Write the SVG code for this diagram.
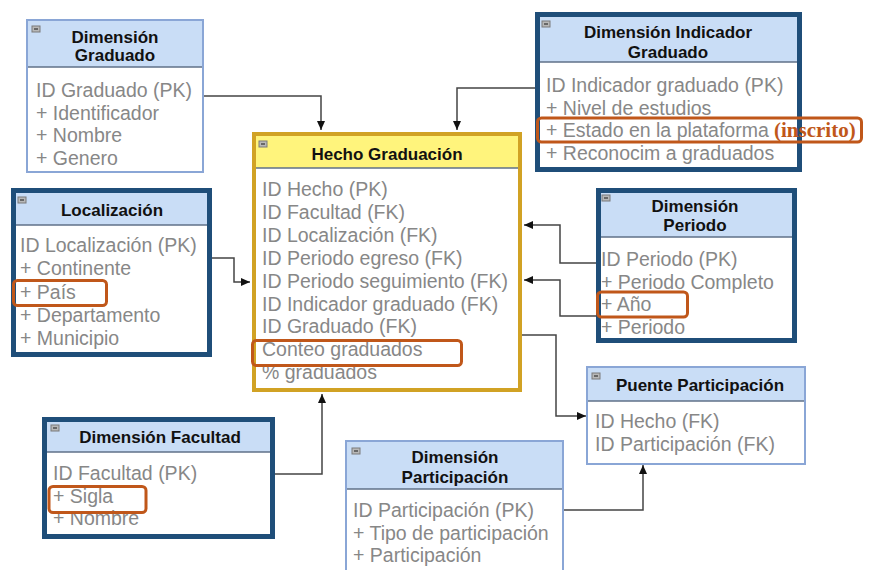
<svg xmlns="http://www.w3.org/2000/svg" width="873" height="570" viewBox="0 0 873 570">
<style>
.bg{fill:#ffffff}
.hd{fill:#c9ddf6}
.hdy{fill:#fff47c}
.lb{fill:#ffffff;stroke:#8aa6d6;stroke-width:2}
.db{fill:none;stroke:#1f4e79;stroke-width:5}
.gb{fill:none;stroke:#d1a224;stroke-width:4}
.dv{stroke:#5f7088;stroke-width:1.5}
.t{font-family:"Liberation Sans",Arial,sans-serif;font-size:17px;font-weight:bold;fill:#111;text-anchor:middle}
.a{font-family:"Liberation Sans",Arial,sans-serif;font-size:19.5px;fill:#878787}
.hl{fill:none;stroke:#c0571a;stroke-width:3}
.ic{fill:#b8b8b8;stroke:#7a7a7a;stroke-width:1}
.icl{stroke:#333;stroke-width:1.2}
.c{fill:none;stroke:#444;stroke-width:1.5}
</style>
<defs>
<marker id="ar" markerWidth="10" markerHeight="10" refX="9" refY="5" orient="auto" markerUnits="userSpaceOnUse">
<path d="M0,1 L9,5 L0,9 Z" fill="#111"/>
</marker>
</defs>
<rect class="bg" x="0" y="0" width="873" height="570"/>

<g id="connectors">
<path class="c" d="M203,96 H321 V130" marker-end="url(#ar)"/>
<path class="c" d="M535,88 H457 V130" marker-end="url(#ar)"/>
<path class="c" d="M212,258 H234 V282 H250" marker-end="url(#ar)"/>
<path class="c" d="M596,263 H560 V225 H524" marker-end="url(#ar)"/>
<path class="c" d="M596,316 H560 V280 H524" marker-end="url(#ar)"/>
<path class="c" d="M522,335 H556 V416 H586" marker-end="url(#ar)"/>
<path class="c" d="M275,474 H322 V394" marker-end="url(#ar)"/>
<path class="c" d="M563,510 H643 V465" marker-end="url(#ar)"/>
</g>

<g id="dim-graduado">
<rect class="lb" x="27" y="20" width="176" height="152"/>
<rect class="hd" x="28" y="21" width="174" height="46"/>
<line class="dv" x1="28" y1="67" x2="202" y2="67"/>
<rect class="ic" x="32" y="26" width="8" height="6"/><line class="icl" x1="34" y1="29" x2="38" y2="29"/>
<text class="t" x="115" y="43">Dimensión</text>
<text class="t" x="115" y="61">Graduado</text>
<text class="a" x="36" y="97">ID Graduado (PK)</text>
<text class="a" x="36" y="119.5">+ Identificador</text>
<text class="a" x="36" y="142">+ Nombre</text>
<text class="a" x="36" y="164.5">+ Genero</text>
</g>

<g id="dim-indicador">
<rect fill="#fff" x="537.5" y="14.5" width="262" height="155"/>
<rect class="hd" x="540" y="17" width="257" height="45"/>
<line class="dv" x1="540" y1="62" x2="797" y2="62"/>
<rect class="db" x="537.5" y="14.5" width="262" height="155"/>
<rect class="ic" x="542" y="21" width="8" height="6"/><line class="icl" x1="544" y1="24" x2="548" y2="24"/>
<text class="t" x="668" y="38">Dimensión Indicador</text>
<text class="t" x="668" y="58">Graduado</text>
<text class="a" x="546" y="92">ID Indicador graduado (PK)</text>
<text class="a" x="546" y="114.5">+ Nivel de estudios</text>
<text class="a" x="546" y="137">+ Estado en la plataforma</text>
<text x="774" y="137" font-family="'Liberation Serif','Times New Roman',serif" font-size="21" font-weight="bold" fill="#c0571a">(inscrito)</text>
<text class="a" x="546" y="159.5">+ Reconocim a graduados</text>
<rect class="hl" x="537.5" y="118" width="324" height="24" rx="4"/>
</g>

<g id="hecho-graduacion">
<rect fill="#fff" x="254" y="134" width="266" height="256"/>
<rect class="hdy" x="256" y="136" width="262" height="32"/>
<line class="dv" x1="256" y1="168" x2="518" y2="168"/>
<rect class="gb" x="254" y="134" width="266" height="256"/>
<rect class="ic" x="259" y="141" width="8" height="6"/><line class="icl" x1="261" y1="144" x2="265" y2="144"/>
<text class="t" x="387" y="160">Hecho Graduación</text>
<text class="a" x="262" y="196">ID Hecho (PK)</text>
<text class="a" x="262" y="219">ID Facultad (FK)</text>
<text class="a" x="262" y="242">ID Localización (FK)</text>
<text class="a" x="262" y="265">ID Periodo egreso (FK)</text>
<text class="a" x="262" y="288">ID Periodo seguimiento (FK)</text>
<text class="a" x="262" y="310.5">ID Indicador graduado (FK)</text>
<text class="a" x="262" y="333">ID Graduado (FK)</text>
<text class="a" x="262" y="356">Conteo graduados</text>
<text class="a" x="262" y="379">% graduados</text>
<rect class="hl" x="252.5" y="340.5" width="209" height="25" rx="4"/>
</g>

<g id="localizacion">
<rect fill="#fff" x="13.5" y="190.5" width="196" height="164"/>
<rect class="hd" x="16" y="193" width="191" height="32"/>
<line class="dv" x1="16" y1="225" x2="207" y2="225"/>
<rect class="db" x="13.5" y="190.5" width="196" height="164"/>
<rect class="ic" x="18" y="197" width="8" height="6"/><line class="icl" x1="20" y1="200" x2="24" y2="200"/>
<text class="t" x="112" y="216">Localización</text>
<text class="a" x="20" y="252">ID Localización (PK)</text>
<text class="a" x="20" y="275">+ Continente</text>
<text class="a" x="20" y="298.5">+ País</text>
<text class="a" x="20" y="322">+ Departamento</text>
<text class="a" x="20" y="345">+ Municipio</text>
<rect class="hl" x="13.5" y="280.5" width="93" height="25" rx="4"/>
</g>

<g id="dim-periodo">
<rect fill="#fff" x="598.5" y="190.5" width="196" height="150"/>
<rect class="hd" x="601" y="193" width="191" height="44"/>
<line class="dv" x1="601" y1="237" x2="792" y2="237"/>
<rect class="db" x="598.5" y="190.5" width="196" height="150"/>
<rect class="ic" x="602" y="195" width="8" height="6"/><line class="icl" x1="604" y1="198" x2="608" y2="198"/>
<text class="t" x="695" y="212">Dimensión</text>
<text class="t" x="695" y="231">Periodo</text>
<text class="a" x="601" y="266">ID Periodo (PK)</text>
<text class="a" x="601" y="288.5">+ Periodo Completo</text>
<text class="a" x="601" y="311">+ Año</text>
<text class="a" x="601" y="333.5">+ Periodo</text>
<rect class="hl" x="597.5" y="292" width="90" height="25" rx="4"/>
</g>

<g id="dim-facultad">
<rect fill="#fff" x="44.5" y="419.5" width="228" height="117"/>
<rect class="hd" x="47" y="422" width="223" height="30"/>
<line class="dv" x1="47" y1="452" x2="270" y2="452"/>
<rect class="ic" x="51" y="425" width="8" height="6"/><line class="icl" x1="53" y1="428" x2="57" y2="428"/>
<rect class="db" x="44.5" y="419.5" width="228" height="117"/>
<text class="t" x="160" y="443">Dimensión Facultad</text>
<text class="a" x="53" y="480">ID Facultad (PK)</text>
<text class="a" x="53" y="502.5">+ Sigla</text>
<text class="a" x="53" y="525">+ Nombre</text>
<rect class="hl" x="49" y="486.5" width="97" height="26" rx="4"/>
</g>

<g id="puente-participacion">
<rect class="lb" x="587" y="367" width="218" height="97"/>
<rect class="hd" x="588" y="368" width="216" height="33"/>
<line class="dv" x1="588" y1="401" x2="804" y2="401"/>
<rect class="ic" x="592" y="373" width="8" height="6"/><line class="icl" x1="594" y1="376" x2="598" y2="376"/>
<text class="t" x="700" y="391">Puente Participación</text>
<text class="a" x="595" y="428">ID Hecho (FK)</text>
<text class="a" x="595" y="451">ID Participación (FK)</text>
</g>

<g id="dim-participacion">
<rect class="lb" x="346" y="441" width="217" height="140"/>
<rect class="hd" x="347" y="442" width="215" height="47"/>
<line class="dv" x1="347" y1="489" x2="562" y2="489"/>
<rect class="ic" x="352" y="448" width="8" height="6"/><line class="icl" x1="354" y1="451" x2="358" y2="451"/>
<text class="t" x="455" y="463">Dimensión</text>
<text class="t" x="455" y="483">Participación</text>
<text class="a" x="353" y="517">ID Participación (PK)</text>
<text class="a" x="353" y="540">+ Tipo de participación</text>
<text class="a" x="353" y="562">+ Participación</text>
</g>
</svg>
